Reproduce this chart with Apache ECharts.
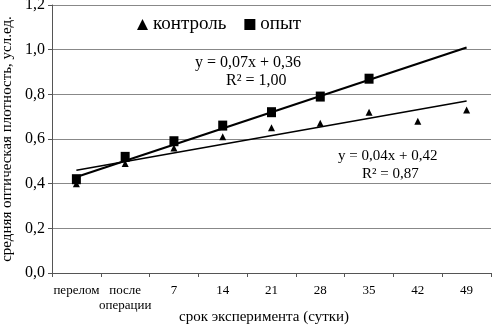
<!DOCTYPE html>
<html>
<head>
<meta charset="utf-8">
<script src="https://cdn.jsdelivr.net/npm/echarts@6/dist/echarts.min.js"></script>
<style>
  html, body { margin: 0; padding: 0; background: #fff; }
  #chart { width: 494px; height: 328px; }
</style>
</head>
<body>
<div id="chart"></div>
<script>
// data
var categories = ['перелом', 'после\nоперации', '7', '14', '21', '28', '35', '42', '49'];
var control = [0.40, 0.49, 0.56, 0.61, 0.65, 0.67, 0.72, 0.68, 0.73];
var experiment = [0.42, 0.52, 0.59, 0.66, 0.72, 0.79, 0.87];
// trend line ends (first and last category)
var controlTrend = [0.46, 0.77];
var experimentTrend = [0.43, 1.01];

var font = 'Liberation Serif';

function trendData(ends){
    return [[0, ends[0]], [categories.length - 1, ends[1]]];
}

var chart = echarts.init(document.getElementById('chart'));
var option = {
    animation: false,
    textStyle: { fontFamily: font, color: '#000' },
    grid: { left: 52, right: 3, top: 5, bottom: 55, outerBoundsMode: 'none', containLabel: false },
    legend: {
        left: 132, top: 10,
        itemGap: 18,
        itemWidth: 11, itemHeight: 11,
        textStyle: { fontFamily: font, fontSize: 19, color: '#000' },
        data: [
            { name: 'контроль', icon: 'triangle' },
            { name: 'опыт', icon: 'rect' }
        ]
    },
    xAxis: {
        type: 'category',
        data: categories,
        boundaryGap: true,
        axisLine: { lineStyle: { color: '#555', width: 1 } },
        axisTick: { show: true, interval: 0, length: 4, lineStyle: { color: '#555' } },
        axisLabel: { interval: 0, fontFamily: font, fontSize: 13, color: '#000', lineHeight: 15, margin: 10 }
    },
    yAxis: {
        type: 'value',
        min: 0, max: 1.2, interval: 0.2,
        name: 'средняя оптическая плотность, усл.ед.',
        nameLocation: 'middle',
        nameGap: 36,
        nameTextStyle: { fontFamily: font, fontSize: 15, color: '#000' },
        axisLine: { show: true, lineStyle: { color: '#555' } },
        axisTick: { show: true, length: 4, lineStyle: { color: '#555' } },
        splitLine: { lineStyle: { color: '#888', width: 1 } },
        axisLabel: {
            fontFamily: font, fontSize: 16, color: '#000', margin: 7,
            formatter: function(v){ return v.toFixed(1).replace('.', ','); }
        }
    },
    series: [
        {
            name: 'контроль',
            type: 'line',
            data: control,
            symbol: 'triangle',
            symbolSize: 7,
            lineStyle: { width: 0, opacity: 0 },
            itemStyle: { color: '#000' },
            z: 3
        },
        {
            name: 'опыт',
            type: 'line',
            data: experiment,
            symbol: 'rect',
            symbolSize: [9, 10],
            lineStyle: { width: 0, opacity: 0 },
            itemStyle: { color: '#000' },
            z: 4
        },
        {
            name: 'тренд контроль',
            type: 'line',
            data: trendData(controlTrend),
            symbol: 'none',
            lineStyle: { color: '#000', width: 1.6 },
            z: 2
        },
        {
            name: 'тренд опыт',
            type: 'line',
            data: trendData(experimentTrend),
            symbol: 'none',
            lineStyle: { color: '#000', width: 2.2 },
            z: 2
        }
    ],
    graphic: [
        // x axis title
        { type: 'text', x: 264, y: 317, style: { text: 'срок эксперимента (сутки)', font: '15px "Liberation Serif"', fill: '#000', align: 'center', verticalAlign: 'middle' } },
        { type: 'text', left: 195, top: 55, style: { text: 'y = 0,07x + 0,36', font: '16px "Liberation Serif"', fill: '#000' } },
        { type: 'text', left: 226, top: 73, style: { text: 'R² = 1,00', font: '16px "Liberation Serif"', fill: '#000' } },
        { type: 'text', left: 338, top: 149, style: { text: 'y = 0,04x + 0,42', font: '15px "Liberation Serif"', fill: '#000' } },
        { type: 'text', left: 362, top: 167, style: { text: 'R² = 0,87', font: '15px "Liberation Serif"', fill: '#000' } }
    ]
};
chart.setOption(option);
</script>
</body>
</html>
